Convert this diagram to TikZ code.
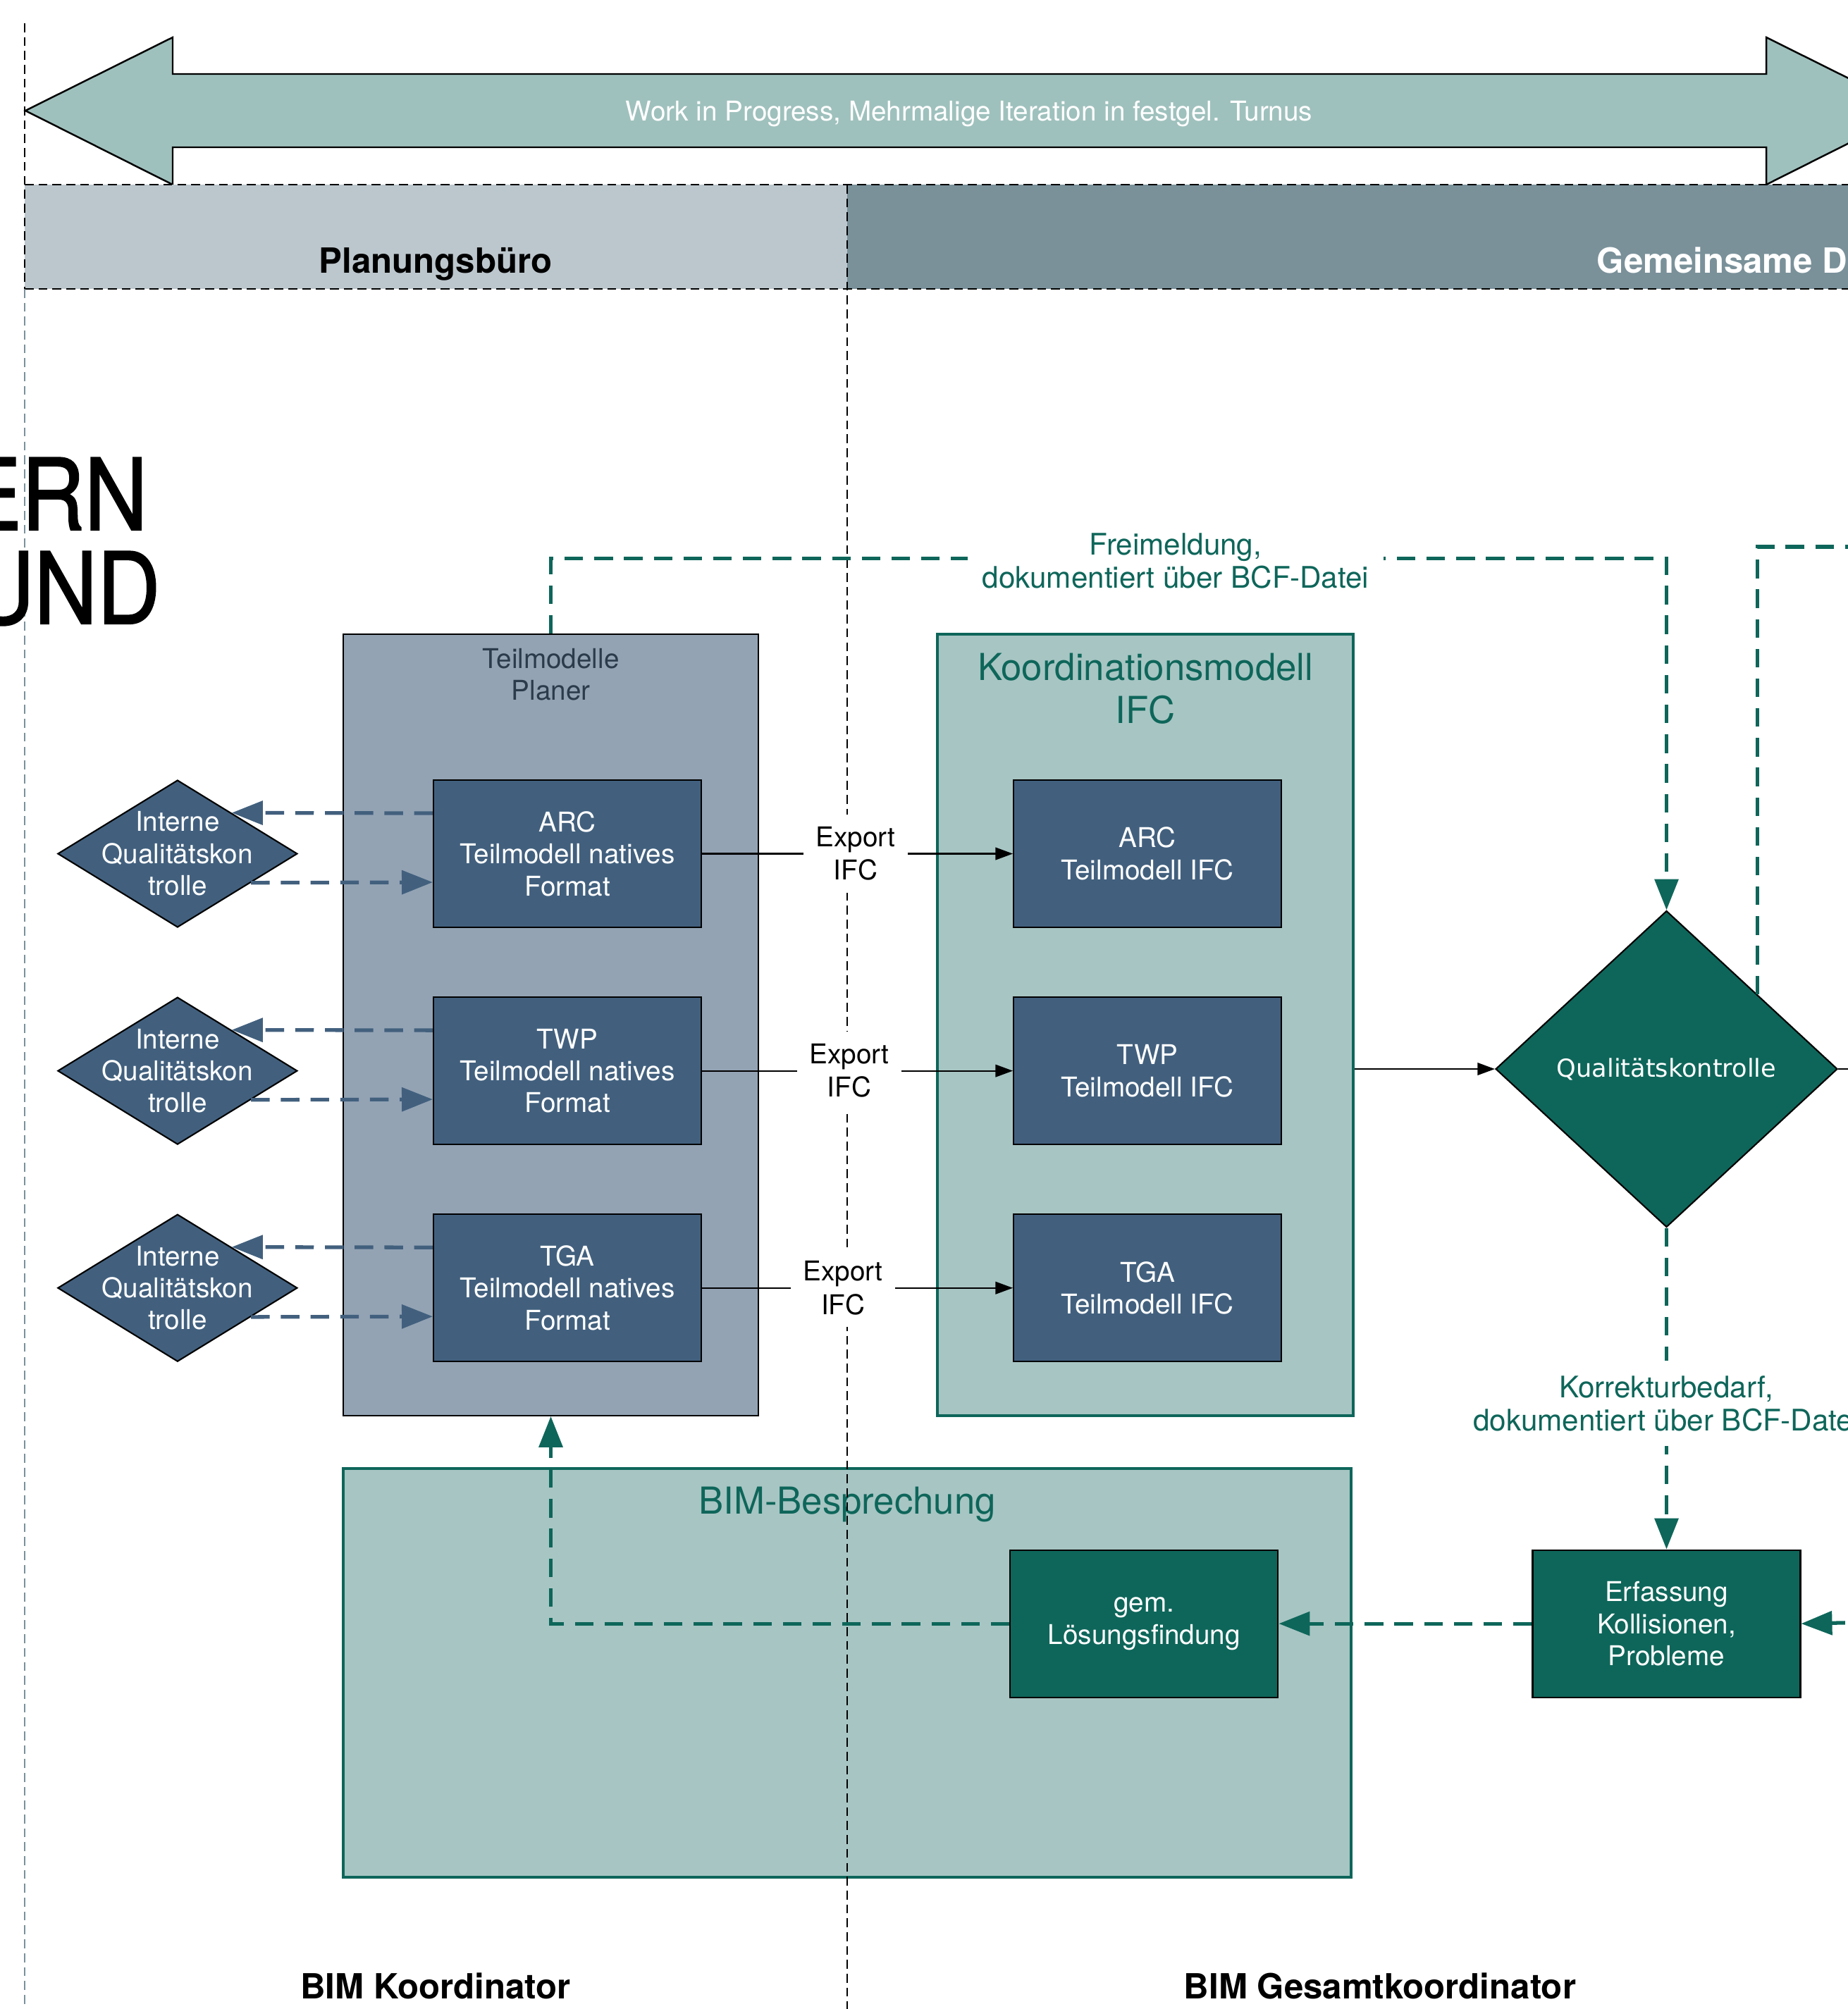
\documentclass[tikz,border=0pt]{standalone}
\usepackage{fontspec}
\setmainfont{TeX Gyre Heros}
\newfontfamily\dejavu{DejaVu Sans}
\newfontfamily\bigfont[FakeBold=1.6]{TeX Gyre Heros}
\usepackage{tikz}
\usetikzlibrary{arrows.meta, positioning, shapes.geometric, calc}

\definecolor{wipfill}{HTML}{9FC1BD}
\definecolor{bandleft}{HTML}{BCC7CD}
\definecolor{bandright}{HTML}{7A919A}
\definecolor{planfill}{HTML}{93A3B4}
\definecolor{nodeblue}{HTML}{42607E}
\definecolor{kteal}{HTML}{0E665A}
\definecolor{koordfill}{HTML}{A7C5C3}
\definecolor{plantext}{HTML}{2B3B4C}

\begin{document}
\begin{tikzpicture}[>={Triangle[length=7pt, width=5pt]},
    thindash/.style={line width=0.5pt, dash pattern=on 3.6pt off 2pt},
    bluedash/.style={draw=nodeblue, line width=1.5pt, dash pattern=on 7.5pt off 4.5pt},
    tealdash/.style={draw=kteal, line width=1.5pt, dash pattern=on 7.5pt off 4.5pt},
    bigtip/.style={-{Triangle[length=12.5pt, width=9.5pt]}},
    natbox/.style={draw, line width=0.6pt, fill=nodeblue, text=white, align=center,
                   minimum width=3.8cm, minimum height=2.09cm, font=\fontsize{11}{12.9}\selectfont},
    tealbox/.style={natbox, fill=kteal},
    qadiam/.style={diamond, draw, line width=0.6pt, fill=nodeblue, inner sep=0pt,
                   minimum width=3.4cm, minimum height=2.09cm},
    qatext/.style={text=white, align=center, font=\fontsize{11}{12.9}\selectfont},
    groupbox/.style={draw=kteal, line width=1.2pt, fill=koordfill,
                     minimum width=5.9cm, minimum height=11.09cm},
    grouptitle/.style={text=kteal, align=center, inner sep=0pt, font=\fontsize{15}{17.5}\selectfont},
    explabel/.style={fill=white, align=center, inner sep=5pt, font=\fontsize{11}{13.4}\selectfont},
    bcflabel/.style={fill=white, text=kteal, align=center, inner sep=6pt, font=\fontsize{12}{13.4}\selectfont},
    headline/.style={inner sep=0pt, font=\fontsize{14}{16}\selectfont\bfseries},
    bigword/.style={anchor=base east, inner sep=0pt, font=\bigfont\fontsize{40}{44}\selectfont}]

\useasboundingbox (0,0) rectangle (26.22,-28.51);
\clip (0,0) rectangle (26.22,-28.51);

% Banner and bands
\filldraw[fill=wipfill, line width=0.7pt]
  (0.36,-1.57) -- (2.45,-0.53) -- (2.45,-1.05) -- (25.06,-1.05) -- (25.06,-0.53)
  -- (27.15,-1.57) -- (25.06,-2.62) -- (25.06,-2.09) -- (2.45,-2.09) -- (2.45,-2.62) -- cycle;
\node[text=white, font=\fontsize{11}{13}\selectfont] (wip) at (13.75,-1.62)
  {Work in Progress, Mehrmalige Iteration in festgel. Turnus};

\fill[bandleft] (0.35,-2.62) rectangle (12.02,-4.10);
\fill[bandright] (12.02,-2.62) rectangle (26.4,-4.10);
\draw[thindash] (0.35,-2.62) -- (26.4,-2.62);
\draw[thindash] (0.35,-4.10) -- (26.4,-4.10);
\draw[thindash] (0.35,-0.33) -- (0.35,-4.10);
\draw[thindash, draw=bandright] (0.35,-4.10) -- (0.35,-28.6);
\node[headline, anchor=base] (buero) at (6.18,-3.87) {Planungsbüro};
\node[headline, anchor=base west, text=white] (cde) at (22.65,-3.87) {Gemeinsame D};

\node[bigword] (ern) at (2.10,-7.52) {\scalebox{0.88}[1]{ERN}};
\node[bigword] (und) at (2.28,-8.85) {\scalebox{0.88}[1]{UND}};

% Groups
\node[draw, line width=0.5pt, fill=planfill, minimum width=5.89cm, minimum height=11.09cm] (Teil) at (7.815,-14.545) {};
\node[below=0.2cm of Teil.north, inner sep=0pt, align=center, text=plantext,
      font=\fontsize{11}{12.9}\selectfont] (TeilTitle) {Teilmodelle\\Planer};
\node[groupbox, right=2.51cm of Teil] (Koord) {};
\node[grouptitle, below=0.28cm of Koord.north] (KoordTitle) {Koordinationsmodell\\IFC};
\node[groupbox, minimum width=14.3cm, minimum height=5.8cm] (Besp) at (12.02,-23.74) {};
\node[grouptitle, below=0.27cm of Besp.north] (BespTitle) {BIM-Besprechung};

\draw[thindash] (12.02,-2.62) -- (12.02,-28.6);

% Nodes
\node[natbox] (NatARC) at (8.05,-12.115) {ARC\\Teilmodell natives\\Format};
\node[natbox, below=0.97cm of NatARC] (NatTWP) {TWP\\Teilmodell natives\\Format};
\node[natbox, below=0.97cm of NatTWP] (NatTGA) {TGA\\Teilmodell natives\\Format};

\node[natbox, right=4.41cm of NatARC] (IfcARC) {ARC\\Teilmodell IFC};
\node[natbox, right=4.41cm of NatTWP] (IfcTWP) {TWP\\Teilmodell IFC};
\node[natbox, right=4.41cm of NatTGA] (IfcTGA) {TGA\\Teilmodell IFC};

\node[qadiam, left=1.91cm of NatARC, label={[qatext]center:Interne\\Qualitätskon\\trolle}] (QiARC) {};
\node[qadiam, left=1.91cm of NatTWP, label={[qatext]center:Interne\\Qualitätskon\\trolle}] (QiTWP) {};
\node[qadiam, left=1.91cm of NatTGA, label={[qatext]center:Interne\\Qualitätskon\\trolle}] (QiTGA) {};

\node[diamond, draw, line width=0.6pt, fill=kteal, text=white, inner sep=0pt,
      minimum width=4.85cm, minimum height=4.49cm,
      font=\dejavu\fontsize{10}{12}\selectfont] (QK) at (23.645,-15.17) {Qualitätskontrolle};
\node[tealbox, below=4.56cm of QK] (Erf) {Erfassung\\Kollisionen,\\Probleme};
\node[tealbox, left=3.59cm of Erf] (Gem) {gem.\\Lösungsfindung};

\node[headline, anchor=base] (koordlbl) at (6.18,-28.36) {BIM Koordinator};
\node[headline, anchor=base] (gesamtlbl) at (19.58,-28.36) {BIM Gesamtkoordinator};

% Connections
\draw[->, line width=0.6pt] (NatARC.east) -- node[explabel, pos=0.494] {Export\\IFC} (IfcARC.west);
\draw[->, line width=0.6pt] (NatTWP.east) -- node[explabel, pos=0.474] {Export\\IFC} (IfcTWP.west);
\draw[->, line width=0.6pt] (NatTGA.east) -- node[explabel, pos=0.454] {Export\\IFC} (IfcTGA.west);

\coordinate (outMid) at (26.6,-15.17);
\draw[->, line width=0.6pt] (Koord.east |- QK.west) -- (QK.west);
\draw[line width=0.6pt] (QK.east) -- (outMid);

% Internal checks
\draw[bluedash, bigtip] ([yshift=0.575cm]NatARC.west) -- ($(QiARC.north)!0.45!(QiARC.east)$);
\draw[bluedash, bigtip] ($(QiARC.east)!0.39!(QiARC.south)$) -- ([yshift=-0.405cm]NatARC.west);
\draw[bluedash, bigtip] ([yshift=0.575cm]NatTWP.west) -- ($(QiTWP.north)!0.45!(QiTWP.east)$);
\draw[bluedash, bigtip] ($(QiTWP.east)!0.39!(QiTWP.south)$) -- ([yshift=-0.405cm]NatTWP.west);
\draw[bluedash, bigtip] ([yshift=0.575cm]NatTGA.west) -- ($(QiTGA.north)!0.45!(QiTGA.east)$);
\draw[bluedash, bigtip] ($(QiTGA.east)!0.39!(QiTGA.south)$) -- ([yshift=-0.405cm]NatTGA.west);

% BCF loop
\draw[tealdash, bigtip] (Teil.north) -- ++(0,1.07) -| node[bcflabel, pos=0.28, yshift=-0.04cm]
  {Freimeldung,\\dokumentiert über BCF-Datei} (QK.north);
\coordinate (outTop) at (26.6,-7.76);
\draw[tealdash] ($(QK.north)!0.53!(QK.east)$) |- (outTop);
\draw[tealdash, bigtip] (QK.south) -- node[bcflabel, pos=0.546]
  {Korrekturbedarf,\\dokumentiert über BCF-Datei} (Erf.north);
\coordinate (outErf) at (26.6,-23.02);
\draw[tealdash, bigtip] (outErf) -- (Erf.east);
\draw[tealdash, bigtip] (Erf.west) -- (Gem.east);
\draw[tealdash, bigtip] (Gem.west) -| (Teil.south);

\end{tikzpicture}
\end{document}
